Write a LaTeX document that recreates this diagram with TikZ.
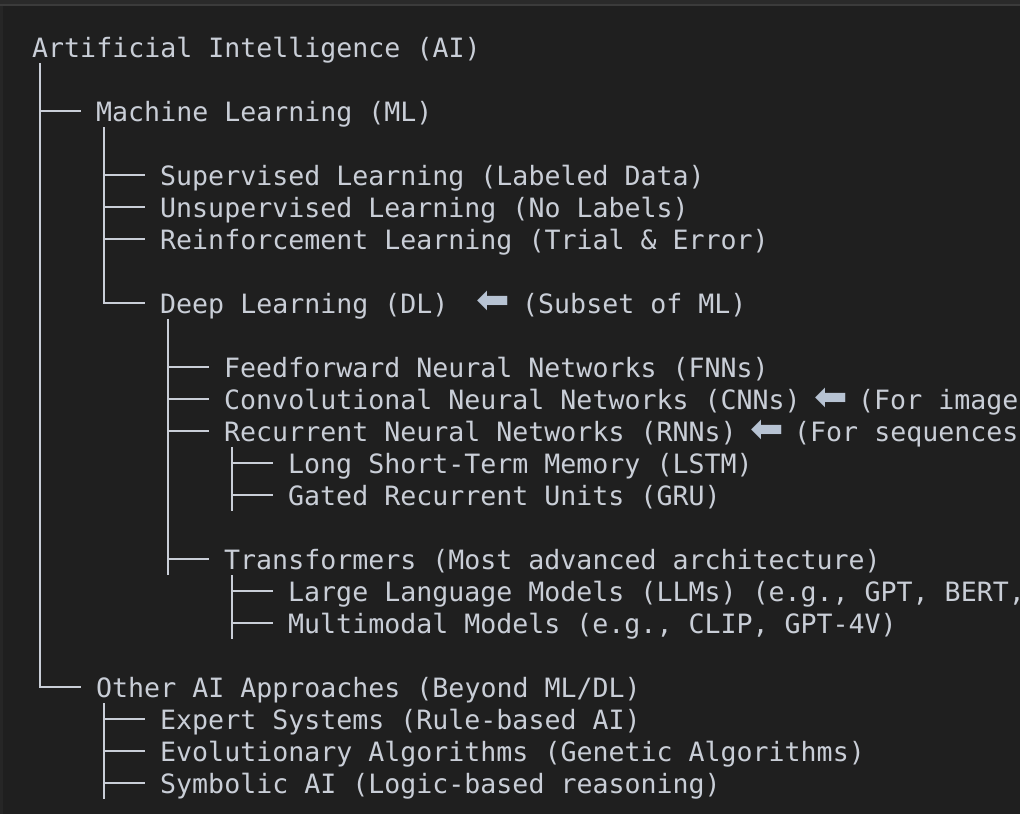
\documentclass[tikz,border=0pt]{standalone}
\usepackage{fontspec}
\setmonofont{DejaVu Sans Mono}
\newfontfamily\arrowfont{DejaVu Sans}
\definecolor{bg}{HTML}{1F1F1F}
\definecolor{topbar}{HTML}{2A2A2A}
\definecolor{edge}{HTML}{3B3B3B}
\definecolor{leftbar}{HTML}{262626}
\definecolor{fg}{HTML}{C9CED7}
\definecolor{arrowc}{HTML}{B7C3D3}
\newcommand\treebranch[2]{\draw[tree] ([xshift=8pt]#1.west |- #2.west) -- ([xshift=-15pt]#2.west);}
\newcommand\treelast[2]{\draw[tree] ([xshift=8pt]#1.south west) |- ([xshift=-15pt]#2.west);}
\newcommand\treerun[2]{\draw[tree] ([xshift=8pt]#1.south west) -- ([xshift=8pt]#1.west |- #2.south);}
\begin{document}
\begin{tikzpicture}[x=1pt,y=-1pt,
  lbl/.style={anchor=west,inner xsep=0pt,inner ysep=0pt,text height=26pt,text depth=6pt,
    font=\ttfamily\fontsize{26.6}{32}\selectfont,text=fg},
  arr/.style={inner sep=0pt,text height=24pt,text depth=0pt,
    font=\arrowfont\fontsize{40}{40}\selectfont,text=arrowc},
  tree/.style={draw=fg,line width=2pt}]
\useasboundingbox (0,0) rectangle (1020,814);
\fill[bg] (0,0) rectangle (1020,814);
\fill[topbar] (0,0) rectangle (1020,4);
\fill[edge] (0,4) rectangle (1020,6);
\fill[leftbar] (0,6) rectangle (3,814);
\clip (0,0) rectangle (1020,814);

\node[lbl] (t0) at (32,47) {Artificial Intelligence (AI)};
\node[lbl] (t2) at (96,111) {Machine Learning (ML)};
\node[lbl] (t4) at (160,175) {Supervised Learning (Labeled Data)};
\node[lbl] (t5) at (160,207) {Unsupervised Learning (No Labels)};
\node[lbl] (t6) at (160,239) {Reinforcement Learning (Trial \& Error)};
\node[lbl] (t8) at (160,303) {Deep Learning (DL)};
\node[arr] (a8) at (493.5,301) {⬅};
\node[lbl] (s8) at (522,303) {(Subset of ML)};
\node[lbl] (t10) at (224,367) {Feedforward Neural Networks (FNNs)};
\node[lbl] (t11) at (224,399) {Convolutional Neural Networks (CNNs)};
\node[arr] (a11) at (831.5,398) {⬅};
\node[lbl] (s11) at (858,399) {(For images)};
\node[lbl] (t12) at (224,431) {Recurrent Neural Networks (RNNs)};
\node[arr] (a12) at (767.5,430) {⬅};
\node[lbl] (s12) at (794,431) {(For sequences)};
\node[lbl] (t13) at (288,463) {Long Short-Term Memory (LSTM)};
\node[lbl] (t14) at (288,495) {Gated Recurrent Units (GRU)};
\node[lbl] (t16) at (224,559) {Transformers (Most advanced architecture)};
\node[lbl] (t17) at (288,591) {Large Language Models (LLMs) (e.g., GPT, BERT,};
\node[lbl] (t18) at (288,623) {Multimodal Models (e.g., CLIP, GPT-4V)};
\node[lbl] (t20) at (96,687) {Other AI Approaches (Beyond ML/DL)};
\node[lbl] (t21) at (160,719) {Expert Systems (Rule-based AI)};
\node[lbl] (t22) at (160,751) {Evolutionary Algorithms (Genetic Algorithms)};
\node[lbl] (t23) at (160,783) {Symbolic AI (Logic-based reasoning)};

% AI
\treelast{t0}{t20}
\treebranch{t0}{t2}
% ML
\treelast{t2}{t8}
\treebranch{t2}{t4}
\treebranch{t2}{t5}
\treebranch{t2}{t6}
% DL
\treerun{t8}{t16}
\treebranch{t8}{t10}
\treebranch{t8}{t11}
\treebranch{t8}{t12}
\treebranch{t8}{t16}
% RNN
\treerun{t12}{t14}
\treebranch{t12}{t13}
\treebranch{t12}{t14}
% Transformers
\treerun{t16}{t18}
\treebranch{t16}{t17}
\treebranch{t16}{t18}
% Other
\treerun{t20}{t23}
\treebranch{t20}{t21}
\treebranch{t20}{t22}
\treebranch{t20}{t23}
\end{tikzpicture}
\end{document}
